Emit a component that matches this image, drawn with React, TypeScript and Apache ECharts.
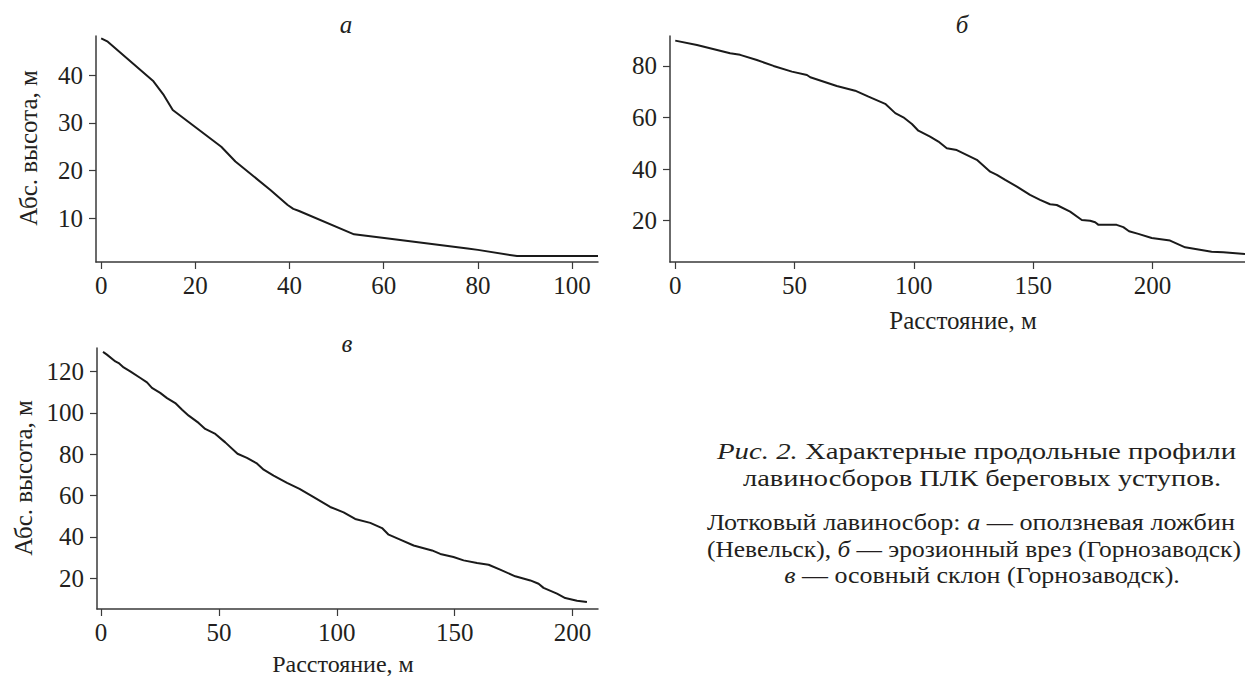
import React, { useEffect, useRef } from "react";
import * as echarts from "echarts";

// Profile а (Невельск)
const aDist = [0, 1.4, 11.1, 13.3, 15.2, 25.5, 28.5, 36, 39.6, 40.8, 41.9, 53.7, 60.1, 77.8, 80, 88.3, 105.5];
const aElev = [47.7, 47.0, 38.7, 35.8, 32.7, 25.0, 21.9, 15.9, 12.8, 12.0, 11.6, 6.65, 5.9, 3.7, 3.4, 2.1, 2.1];

// Profile б (Горнозаводск)
const bDist = [0, 9.1, 23, 27.2, 34.2, 41.2, 48.9, 55.2, 56.6, 67.7, 75.4, 81, 88, 92.2, 95.6, 99.2, 101.9, 106.8, 110.3, 113.8, 118, 126.4, 132, 134.8, 138.3, 143.2, 148.7, 152.9, 157.1, 159.9, 165.5, 170.4, 173.9, 176, 177.4, 185, 187.8, 190.2, 194.1, 199.7, 207.4, 213.7, 224.8, 229.7, 238.8];
const bElev = [89.8, 88.1, 84.9, 84.3, 82.3, 80.0, 77.8, 76.5, 75.6, 72.2, 70.4, 68.1, 65.3, 61.7, 60.1, 57.5, 54.9, 52.6, 50.7, 48.1, 47.4, 43.6, 39.0, 37.8, 35.8, 33.2, 30.0, 28.1, 26.4, 26.1, 23.5, 20.3, 20.0, 19.4, 18.4, 18.4, 17.5, 15.9, 14.9, 13.3, 12.3, 9.7, 8.0, 7.8, 7.1];

// Profile в (Горнозаводск)
const vDist = [0.85, 2.5, 6.1, 7.5, 9.6, 12.4, 16.7, 19.5, 21.6, 25.1, 28, 31.5, 34.4, 37.2, 41.4, 44.2, 48.5, 52.7, 57.9, 61.9, 65.9, 69, 73.2, 78.9, 84.2, 90.2, 97.2, 102.9, 107.8, 114.2, 119.2, 122, 126.9, 132.6, 140.4, 143.9, 149.5, 153.8, 159.5, 164.4, 169.3, 175.7, 182.1, 185.6, 187.7, 193.4, 196.9, 201.9, 206.1];
const vElev = [129.4, 128.1, 124.8, 124, 121.9, 120, 116.8, 114.7, 112, 109.6, 107.1, 104.7, 101.5, 98.6, 95.1, 92.2, 89.8, 85.7, 80.2, 78.2, 75.7, 72.5, 69.6, 66.1, 63.2, 59.2, 54.5, 51.9, 48.7, 46.8, 44.3, 41.1, 38.7, 35.9, 33.5, 31.8, 30.3, 28.7, 27.4, 26.6, 24.2, 21, 19, 17.4, 15.4, 12.6, 10.5, 9.2, 8.6];

// Tick labels
const aXTicks = [0, 20, 40, 60, 80, 100];
const aYTicks = [10, 20, 30, 40];
const bXTicks = [0, 50, 100, 150, 200];
const bYTicks = [20, 40, 60, 80];
const vXTicks = [0, 50, 100, 150, 200];
const vYTicks = [20, 40, 60, 80, 100, 120];

const panelTitles = ["а", "б", "в"];
const yName = "Абс. высота, м";
const xName = "Расстояние, м";

const FONT = "'Liberation Serif', 'DejaVu Serif', serif";
const INK = "#231f20";
const AXIS = "#3a3a3a";

function makeAxis(min: number, max: number, ticks: number[], margin: number) {
  return {
    type: "value",
    min,
    max,
    axisLine: { show: true, onZero: false, lineStyle: { color: AXIS, width: 1.5 } },
    axisTick: { show: true, length: 7, customValues: ticks, lineStyle: { color: AXIS, width: 1.2 } },
    axisLabel: { customValues: ticks, color: INK, fontSize: 25, fontFamily: FONT, margin },
    splitLine: { show: false },
  };
}

function txt(text: string, x: number, y: number, size: number, align: string, extra: any = {}) {
  const { italic, ...rest } = extra;
  return {
    type: "text",
    x,
    y,
    ...rest,
    style: {
      text,
      fill: INK,
      fontSize: size,
      fontFamily: FONT,
      fontStyle: italic ? "italic" : "normal",
      align,
      textAlign: align,
      verticalAlign: "middle",
      textVerticalAlign: "middle",
      rich: {
        i: { fontStyle: "italic", fontSize: size, fontFamily: FONT, fill: INK },
      },
    },
  };
}

export default function App() {
  const ref = useRef<HTMLDivElement>(null);
  useEffect(() => {
    if (!ref.current) return;
    const chart = echarts.init(ref.current, null, { renderer: "svg" });
    const line = (xi: number, xs: number[], ys: number[]) => ({
      type: "line",
      xAxisIndex: xi,
      yAxisIndex: xi,
      data: xs.map((d, i) => [d, ys[i]]),
      showSymbol: false,
      symbol: "none",
      lineStyle: { color: "#1a1a1a", width: 2 },
    });
    chart.setOption({
      animation: false,
      backgroundColor: "#ffffff",
      textStyle: { fontFamily: FONT },
      grid: [
        { left: 96, top: 36, width: 502, height: 226 },
        { left: 670, top: 36, width: 575, height: 226 },
        { left: 97, top: 348, width: 501, height: 261 },
      ],
      xAxis: [
        { ...makeAxis(-1.1, 105.5, aXTicks, 11), gridIndex: 0 },
        { ...makeAxis(-2.2, 238.8, bXTicks, 11), gridIndex: 1 },
        { ...makeAxis(-1.7, 210.8, vXTicks, 11), gridIndex: 2 },
      ],
      yAxis: [
        { ...makeAxis(0.86, 48.2, aYTicks, 13), gridIndex: 0 },
        { ...makeAxis(4.0, 91.6, bYTicks, 13), gridIndex: 1 },
        { ...makeAxis(5.2, 131.3, vYTicks, 13), gridIndex: 2 },
      ],
      series: [line(0, aDist, aElev), line(1, bDist, bElev), line(2, vDist, vElev)],
      graphic: [
        txt(panelTitles[0], 346, 24, 25, "center", { italic: true }),
        txt(panelTitles[1], 962, 24, 25, "center", { italic: true }),
        txt(panelTitles[2], 347, 343, 25, "center", { italic: true }),
        txt(yName, 28, 148, 25, "center", { rotation: Math.PI / 2 }),
        txt(yName, 23, 478, 25, "center", { rotation: Math.PI / 2 }),
        txt(xName, 963, 320, 25, "center"),
        txt(xName, 343, 664, 24, "center"),
        txt("{i|Рис. 2.} Характерные продольные профили", 717, 451, 24, "left", { scaleX: 1.2 }),
        txt("лавиносборов ПЛК береговых уступов.", 982, 478, 24, "center", { scaleX: 1.186 }),
        txt("Лотковый лавиносбор: {i|а} — оползневая ложбин", 707, 522, 24, "left", { scaleX: 1.09 }),
        txt("(Невельск), {i|б} — эрозионный врез (Горнозаводск)", 707, 549, 24, "left", { scaleX: 1.06 }),
        txt("{i|в} — осовный склон (Горнозаводск).", 982, 575, 24, "center", { scaleX: 1.082 }),
      ],
    });
    return () => chart.dispose();
  }, []);
  return (
    <div
      ref={ref}
      style={{ position: "fixed", left: 0, top: 0, width: 1245, height: 677, background: "#fff" }}
    />
  );
}
